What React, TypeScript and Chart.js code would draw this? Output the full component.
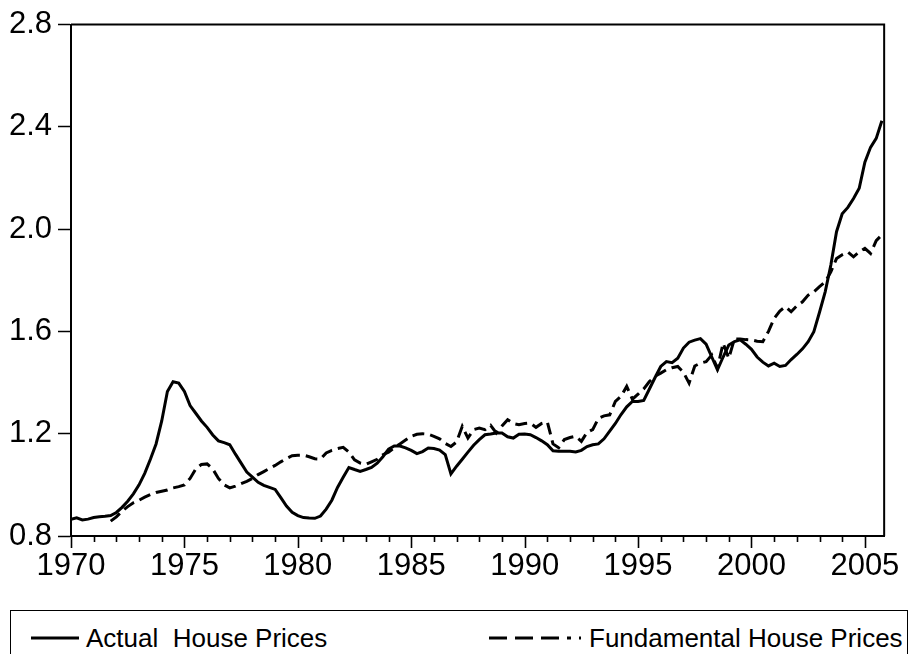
import React, { useEffect, useRef } from "react";
import { Chart, registerables } from "chart.js";

Chart.register(...registerables);

// ---- Data (quarterly, 1970Q1 - 2005Q4) ----
const START_YEAR = 1970;
const QUARTERS_PER_YEAR = 4;

const actualHousePrices: number[] = [
  0.865, 0.871, 0.863, 0.866, // 1970
  0.872, 0.875, 0.877, 0.880, // 1971
  0.892, 0.912, 0.936, 0.965, // 1972
  1.000, 1.045, 1.100, 1.160, // 1973
  1.250, 1.365, 1.403, 1.398, // 1974
  1.365, 1.310, 1.280, 1.250, // 1975
  1.225, 1.195, 1.172, 1.165, // 1976
  1.157, 1.120, 1.085, 1.050, // 1977
  1.030, 1.010, 0.998, 0.990, // 1978
  0.982, 0.950, 0.917, 0.893, // 1979
  0.880, 0.872, 0.870, 0.869, // 1980
  0.878, 0.905, 0.940, 0.990, // 1981
  1.030, 1.068, 1.060, 1.053, // 1982
  1.060, 1.068, 1.085, 1.110, // 1983
  1.140, 1.152, 1.152, 1.145, // 1984
  1.135, 1.122, 1.130, 1.144, // 1985
  1.142, 1.136, 1.118, 1.043, // 1986
  1.073, 1.100, 1.128, 1.155, // 1987
  1.177, 1.196, 1.199, 1.203, // 1988
  1.203, 1.188, 1.183, 1.198, // 1989
  1.199, 1.196, 1.185, 1.172, // 1990
  1.157, 1.133, 1.131, 1.131, // 1991
  1.131, 1.129, 1.135, 1.150, // 1992
  1.157, 1.160, 1.180, 1.210, // 1993
  1.240, 1.275, 1.305, 1.326, // 1994
  1.326, 1.330, 1.375, 1.420, // 1995
  1.463, 1.482, 1.478, 1.495, // 1996
  1.535, 1.558, 1.566, 1.572, // 1997
  1.550, 1.500, 1.450, 1.500, // 1998
  1.547, 1.560, 1.567, 1.550, // 1999
  1.530, 1.500, 1.480, 1.465, // 2000
  1.476, 1.463, 1.467, 1.490, // 2001
  1.510, 1.532, 1.560, 1.599, // 2002
  1.675, 1.755, 1.860, 1.990, // 2003
  2.060, 2.085, 2.120, 2.160, // 2004
  2.262, 2.320, 2.355, 2.424, // 2005
];

const fundamentalHousePrices: (number | null)[] = [
  null, null, null, null, // 1970
  null, null, null, 0.858, // 1971
  0.875, 0.897, 0.915, 0.930, // 1972
  0.940, 0.952, 0.962, 0.970, // 1973
  0.975, 0.980, 0.988, 0.993, // 1974
  1.000, 1.025, 1.062, 1.080, // 1975
  1.082, 1.062, 1.025, 1.000, // 1976
  0.988, 0.995, 1.005, 1.014, // 1977
  1.025, 1.040, 1.052, 1.064, // 1978
  1.076, 1.090, 1.103, 1.114, // 1979
  1.116, 1.116, 1.110, 1.102, // 1980
  1.101, 1.125, 1.135, 1.142, // 1981
  1.147, 1.128, 1.098, 1.085, // 1982
  1.080, 1.090, 1.100, 1.118, // 1983
  1.128, 1.145, 1.160, 1.175, // 1984
  1.190, 1.198, 1.200, 1.198, // 1985
  1.190, 1.180, 1.162, 1.150, // 1986
  1.168, 1.229, 1.183, 1.216, // 1987
  1.222, 1.216, 1.233, 1.203, // 1988
  1.230, 1.255, 1.240, 1.235, // 1989
  1.240, 1.242, 1.225, 1.240, // 1990
  1.246, 1.160, 1.145, 1.177, // 1991
  1.185, 1.190, 1.170, 1.205, // 1992
  1.216, 1.260, 1.270, 1.274, // 1993
  1.326, 1.346, 1.385, 1.335, // 1994
  1.355, 1.375, 1.404, 1.425, // 1995
  1.437, 1.450, 1.458, 1.463, // 1996
  1.440, 1.398, 1.465, 1.476, // 1997
  1.482, 1.508, 1.456, 1.554, // 1998
  1.495, 1.571, 1.570, 1.568, // 1999
  1.567, 1.562, 1.560, 1.600, // 2000
  1.651, 1.680, 1.697, 1.677, // 2001
  1.700, 1.716, 1.742, 1.755, // 2002
  1.775, 1.794, 1.833, 1.885, // 2003
  1.900, 1.911, 1.892, 1.911, // 2004
  1.925, 1.905, 1.955, 1.978, // 2005
];

const seriesLabels = ["Actual  House Prices", "Fundamental House Prices"];

const yTickValues = [0.8, 1.2, 1.6, 2.0, 2.4, 2.8];
const xLabelYears = [1970, 1975, 1980, 1985, 1990, 1995, 2000, 2005];
const xTickYears = [
  1970, 1971, 1972, 1973, 1974, 1975, 1976, 1977, 1978, 1979,
  1980, 1981, 1982, 1983, 1984, 1985, 1986, 1987, 1988, 1989,
  1990, 1991, 1992, 1993, 1994, 1995, 1996, 1997, 1998, 1999,
  2000, 2001, 2002, 2003, 2004, 2005,
];

const X_MIN = 1970;
const X_MAX = 2005.85;
const Y_MIN = 0.8;
const Y_MAX = 2.8;

const FONT_FAMILY = '"Liberation Sans", Arial, Helvetica, sans-serif';

const toPoints = (vals: (number | null)[]) =>
  vals.map((v, i) => ({ x: START_YEAR + i / QUARTERS_PER_YEAR, y: v }));

const framePlugin = {
  id: "frameAndTicks",
  afterDraw(chart: any) {
    const { ctx, chartArea, scales } = chart;
    ctx.save();
    ctx.strokeStyle = "#000";
    ctx.lineWidth = 2;
    ctx.beginPath();
    ctx.moveTo(chartArea.left, chartArea.top);
    ctx.lineTo(chartArea.right, chartArea.top);
    ctx.lineTo(chartArea.right, chartArea.bottom);
    ctx.stroke();
    // x tick marks (minor every year, major every 5 years)
    ctx.lineWidth = 1.6;
    const xs = scales.x;
    for (const yr of xTickYears) {
      const px = Math.round(xs.getPixelForValue(yr)) + 0.5;
      const len = xLabelYears.includes(yr) ? 12 : 6;
      ctx.beginPath();
      ctx.moveTo(px, chartArea.bottom);
      ctx.lineTo(px, chartArea.bottom + len);
      ctx.stroke();
    }
    ctx.restore();
  },
};

export default function App() {
  const canvasRef = useRef<HTMLCanvasElement | null>(null);

  useEffect(() => {
    if (!canvasRef.current) return;
    const chart = new Chart(canvasRef.current, {
      type: "line",
      data: {
        datasets: [
          {
            label: seriesLabels[0],
            data: toPoints(actualHousePrices) as any,
            borderColor: "#000",
            borderWidth: 3,
            pointRadius: 0,
            tension: 0,
            fill: false,
          },
          {
            label: seriesLabels[1],
            data: toPoints(fundamentalHousePrices) as any,
            borderColor: "#000",
            borderWidth: 3,
            borderDash: [12, 6],
            pointRadius: 0,
            tension: 0,
            fill: false,
            spanGaps: false,
          },
        ],
      },
      options: {
        responsive: false,
        animation: false,
        devicePixelRatio: 1,
        layout: { padding: { top: 22, right: 27, left: 0, bottom: 0 } },
        plugins: { legend: { display: false }, tooltip: { enabled: false } },
        scales: {
          x: {
            type: "linear",
            min: X_MIN,
            max: X_MAX,
            afterBuildTicks: (s: any) => {
              s.ticks = xTickYears.map((v) => ({ value: v }));
            },
            afterFit: (s: any) => {
              s.height = 64;
            },
            ticks: {
              autoSkip: false,
              maxRotation: 0,
              minRotation: 0,
              color: "#000",
              padding: 12,
              font: { family: FONT_FAMILY, size: 31 },
              callback: (v: any) => (xLabelYears.includes(Number(v)) ? String(v) : ""),
            },
            grid: { display: false, drawTicks: false },
            border: { display: true, color: "#000", width: 2 },
          },
          y: {
            min: Y_MIN,
            max: Y_MAX,
            afterBuildTicks: (s: any) => {
              s.ticks = yTickValues.map((v) => ({ value: v }));
            },
            afterFit: (s: any) => {
              s.width = 71;
            },
            ticks: {
              color: "#000",
              padding: 6,
              font: { family: FONT_FAMILY, size: 31 },
              callback: (v: any) => Number(v).toFixed(1),
            },
            grid: {
              drawOnChartArea: false,
              drawTicks: true,
              tickLength: 13,
              tickColor: "#000",
              tickWidth: 1.5,
              color: "#000",
            },
            border: { display: true, color: "#000", width: 2 },
          },
        },
      },
      plugins: [framePlugin],
    });
    return () => chart.destroy();
  }, []);

  return (
    <div style={{ position: "fixed", left: 0, top: 0, width: 912, height: 654, background: "#fff", overflow: "hidden" }}>
      <canvas ref={canvasRef} width={912} height={600} style={{ position: "absolute", left: 0, top: 0, width: 912, height: 600 }} />
      <div
        style={{
          position: "absolute",
          left: 10,
          top: 610,
          width: 898,
          height: 80,
          border: "1px solid #000",
          boxSizing: "border-box",
          fontFamily: FONT_FAMILY,
          fontSize: 26,
          color: "#000",
        }}
      >
        <div style={{ position: "absolute", left: 20, top: 11, height: 32, display: "flex", alignItems: "center", whiteSpace: "pre" }}>
          <svg width={48} height={10} style={{ marginRight: 7 }}>
            <line x1={0} y1={5} x2={48} y2={5} stroke="#000" strokeWidth={3} />
          </svg>
          <span>{seriesLabels[0]}</span>
        </div>
        <div style={{ position: "absolute", left: 478, top: 11, height: 32, display: "flex", alignItems: "center", whiteSpace: "pre" }}>
          <svg width={92} height={10} style={{ marginRight: 8 }}>
            <line x1={0} y1={5} x2={92} y2={5} stroke="#000" strokeWidth={3} strokeDasharray="18 8 18 8 18 8 4 8" />
          </svg>
          <span>{seriesLabels[1]}</span>
        </div>
      </div>
    </div>
  );
}
